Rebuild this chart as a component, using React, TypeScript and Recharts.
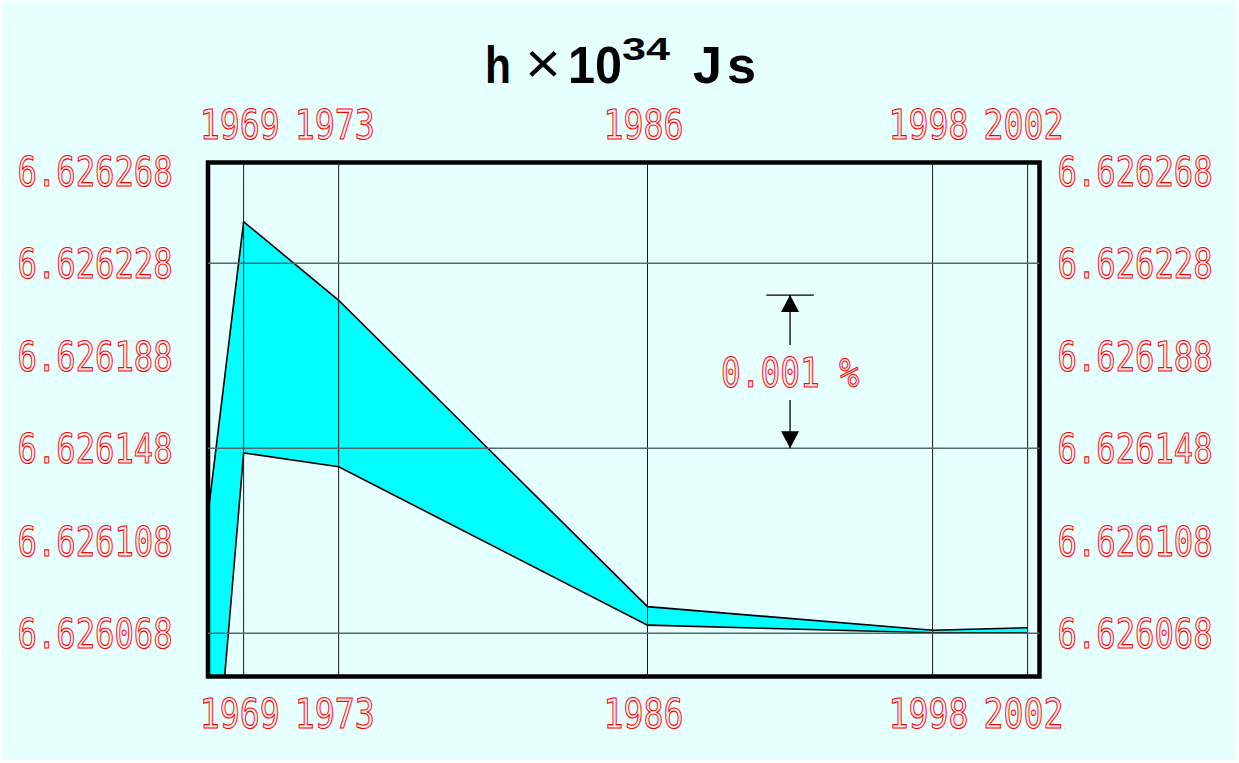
import React from 'react';
import {
  ComposedChart,
  Area,
  XAxis,
  YAxis,
  ReferenceLine,
  ReferenceArea,
  ReferenceDot,
} from 'recharts';

// ---- data (values of h, in units of 1e-34 J s) ----
const years = [1963, 1969, 1973, 1986, 1998, 2002];
const hValues = [6.62558, 6.626196, 6.626176, 6.6260755, 6.62606876, 6.6260693];
const hUncert = [0.00016, 0.00005, 0.000036, 0.000004, 0.00000052, 0.0000011];

const xTicks = [1969, 1973, 1986, 1998, 2002];
const yTicks = [6.626068, 6.626108, 6.626148, 6.626188, 6.626228, 6.626268];
const hGridValues = [6.626228, 6.626148, 6.626068];
const xDomain = [1967.5, 2002.5];
const yDomain = [6.6260493, 6.6262716];

// annotation: 0.001 % arrow
const arrowYear = 1992;
const arrowBarYears = [1991, 1993];
const arrowLow = 6.626148;
const arrowHigh = arrowLow * (1 + 0.00001);
const arrowGapTop = 6.6261927;
const arrowGapBottom = 6.6261689;
const arrowLabel = '0.001 %';

const data = years.map((y, i) => ({
  year: y,
  range: [hValues[i] - hUncert[i], hValues[i] + hUncert[i]],
}));

const RED = '#ff0000';
const LABEL_FILL = '#ffeef1';
const FONT = '"DejaVu Sans Mono", "Liberation Mono", monospace';

const OutlineText = ({ x, y, text, width }: any) => (
  <text
    x={x}
    y={y}
    textAnchor="middle"
    fontFamily={FONT}
    fontSize={40}
    textLength={width}
    lengthAdjust="spacingAndGlyphs"
    fill={LABEL_FILL}
    stroke={RED}
    strokeWidth={1.1}
  >
    {text}
  </text>
);

const XTick = (props: any) => {
  const { x, payload, orientation } = props;
  const cy = orientation === 'top' ? 139 : 728;
  return <OutlineText x={x - 4} y={cy} text={String(payload.value)} width={80} />;
};

const YTick = (props: any) => {
  const { y, payload, orientation } = props;
  const cx = orientation === 'right' ? 1135 : 95;
  return <OutlineText x={cx} y={y + 15} text={Number(payload.value).toFixed(6)} width={155} />;
};

const ArrowUp = (p: any) => (
  <polygon points={`${p.cx},${p.cy} ${p.cx - 9},${p.cy + 17} ${p.cx + 9},${p.cy + 17}`} fill="#000" />
);
const ArrowDown = (p: any) => (
  <polygon points={`${p.cx},${p.cy} ${p.cx - 9},${p.cy - 17} ${p.cx + 9},${p.cy - 17}`} fill="#000" />
);
const ArrowText = (p: any) => (
  <OutlineText x={p.cx} y={p.cy + 15} text={arrowLabel} width={138} />
);

export default function App() {
  return (
    <div style={{ position: 'absolute', left: 0, top: 0, width: 1239, height: 763, background: '#ffffff' }}>
      <div style={{ position: 'absolute', left: 2, top: 2, width: 1234, height: 758, background: '#e6ffff' }} />
      <svg
        width={1239}
        height={110}
        style={{ position: 'absolute', left: 0, top: 0 }}
        fontFamily='"Liberation Sans", Arial, sans-serif'
      >
        <text x={485} y={83} fontSize={52} fontWeight="bold" fill="#000" textLength={26} lengthAdjust="spacingAndGlyphs">h</text>
        <text x={525} y={83} fontSize={58} fill="#000" textLength={36} lengthAdjust="spacingAndGlyphs">×</text>
        <text x={568} y={83} fontSize={52} fontWeight="bold" fill="#000" textLength={54} lengthAdjust="spacingAndGlyphs">10</text>
        <text x={622} y={60} fontSize={31} fontWeight="bold" fill="#000" textLength={48} lengthAdjust="spacingAndGlyphs">34</text>
        <text x={693} y={83} fontSize={52} fontWeight="bold" fill="#000" textLength={29} lengthAdjust="spacingAndGlyphs">J</text>
        <text x={727} y={83} fontSize={52} fontWeight="bold" fill="#000" textLength={29} lengthAdjust="spacingAndGlyphs">s</text>
      </svg>
      <div style={{ position: 'absolute', left: 0, top: 0 }}>
        <ComposedChart width={1239} height={763} data={data} margin={{ top: 0, right: 0, bottom: 0, left: 0 }}>
          <XAxis
            xAxisId="bottom"
            orientation="bottom"
            type="number"
            dataKey="year"
            domain={xDomain}
            allowDataOverflow
            ticks={xTicks}
            height={86.5}
            axisLine={false}
            tickLine={false}
            tick={<XTick orientation="bottom" />}
            interval={0}
          />
          <XAxis
            xAxisId="top"
            orientation="top"
            type="number"
            dataKey="year"
            domain={xDomain}
            allowDataOverflow
            ticks={xTicks}
            height={162.5}
            axisLine={false}
            tickLine={false}
            tick={<XTick orientation="top" />}
            interval={0}
          />
          <YAxis
            yAxisId="left"
            orientation="left"
            type="number"
            domain={yDomain}
            allowDataOverflow
            ticks={yTicks}
            width={208}
            axisLine={false}
            tickLine={false}
            tick={<YTick orientation="left" />}
            interval={0}
          />
          <YAxis
            yAxisId="right"
            orientation="right"
            type="number"
            domain={yDomain}
            allowDataOverflow
            ticks={yTicks}
            width={199.5}
            axisLine={false}
            tickLine={false}
            tick={<YTick orientation="right" />}
            interval={0}
          />
          {xTicks.map((t) => (
            <ReferenceLine key={'v' + t} xAxisId="bottom" yAxisId="left" x={t} stroke="#1a1a1a" strokeWidth={1} />
          ))}
          <Area
            xAxisId="bottom"
            yAxisId="left"
            type="linear"
            dataKey="range"
            fill="#00ffff"
            fillOpacity={1}
            stroke="#000"
            strokeWidth={1.6}
            isAnimationActive={false}
            dot={false}
            activeDot={false}
          />
          {hGridValues.map((v) => (
            <ReferenceLine key={'h' + v} xAxisId="bottom" yAxisId="left" y={v} stroke="#4f6b6b" strokeWidth={1.4} />
          ))}
          {/* 0.001 % annotation */}
          <ReferenceLine
            xAxisId="bottom"
            yAxisId="left"
            ifOverflow="visible"
            segment={[{ x: arrowBarYears[0], y: arrowHigh }, { x: arrowBarYears[1], y: arrowHigh }]}
            stroke="#000"
            strokeWidth={1.3}
          />
          <ReferenceLine
            xAxisId="bottom"
            yAxisId="left"
            ifOverflow="visible"
            segment={[{ x: arrowYear, y: arrowHigh }, { x: arrowYear, y: arrowGapTop }]}
            stroke="#000"
            strokeWidth={1.3}
          />
          <ReferenceLine
            xAxisId="bottom"
            yAxisId="left"
            ifOverflow="visible"
            segment={[{ x: arrowYear, y: arrowGapBottom }, { x: arrowYear, y: arrowLow }]}
            stroke="#000"
            strokeWidth={1.3}
          />
          <ReferenceDot xAxisId="bottom" yAxisId="left" x={arrowYear} y={arrowHigh} ifOverflow="visible" shape={ArrowUp} />
          <ReferenceDot xAxisId="bottom" yAxisId="left" x={arrowYear} y={arrowLow} ifOverflow="visible" shape={ArrowDown} />
          <ReferenceDot
            xAxisId="bottom"
            yAxisId="left"
            x={arrowYear}
            y={(arrowGapTop + arrowGapBottom) / 2}
            ifOverflow="visible"
            shape={ArrowText}
          />
          <ReferenceArea
            xAxisId="bottom"
            yAxisId="left"
            x1={xDomain[0]}
            x2={xDomain[1]}
            y1={yDomain[0]}
            y2={yDomain[1]}
            ifOverflow="visible"
            fill="none"
            fillOpacity={0}
            stroke="#000"
            strokeWidth={4.5}
          />
        </ComposedChart>
      </div>
    </div>
  );
}
